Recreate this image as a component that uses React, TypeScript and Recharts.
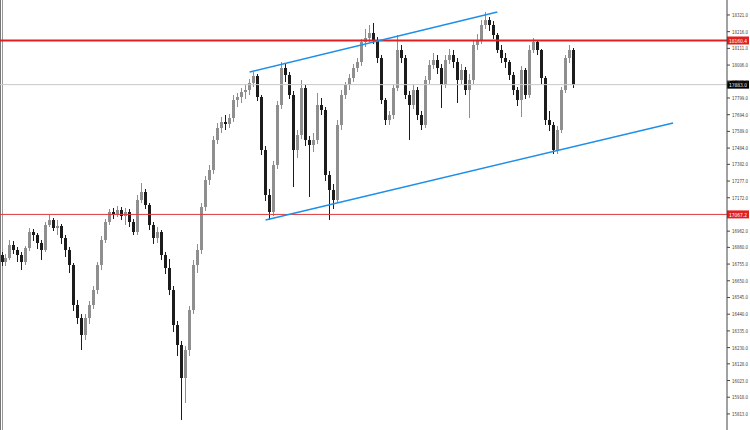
import { Bar, ComposedChart, ReferenceLine, XAxis, YAxis } from "recharts";

const OPEN = [
  16810, 16768, 16793, 16875, 16844, 16812, 16768, 16856, 16957, 16938, 16888, 16844, 17001, 17032, 16982, 16994,
  16919, 16844, 16749, 16498, 16416, 16309, 16416, 16498, 16592, 16749, 16906, 17020, 17082, 17070, 17095, 17057,
  17082, 17020, 16957, 17158, 17208, 17126, 17001, 16919, 16957, 16812, 16730, 16592, 16372, 16246, 16039, 16215,
  16466, 16749, 16844, 17114, 17284, 17346, 17535, 17610, 17648, 17636, 17673, 17786, 17805, 17837, 17849, 17893,
  17937, 17805, 17472, 17189, 17082, 17378, 17755, 17988, 17944, 17818, 17472, 17566, 17862, 17535, 17504, 17535,
  17755, 17724, 17315, 17221, 17158, 17629, 17818, 17881, 17925, 17988, 18025, 18151, 18176, 18208, 18164, 18050,
  17786, 17661, 17692, 17862, 18101, 18050, 17818, 17755, 17849, 17692, 17629, 17912, 18006, 18038, 17988, 17881,
  18038, 18069, 18025, 17912, 17975, 17849, 17912, 18132, 18164, 18258, 18289, 18258, 18195, 18101, 18050, 18025,
  17944, 17849, 17786, 17975, 17818, 18101, 18151, 18101, 17925, 17661, 17629, 17472, 17598, 17849, 18050, 18101,
];
const HIGH = [
  16830, 16820, 16905, 16900, 16860, 16830, 16870, 16980, 16975, 16950, 16905, 17020, 17063, 17045, 17030, 17010,
  16935, 16860, 16760, 16530, 16440, 16440, 16520, 16620, 16770, 16930, 17040, 17100, 17110, 17120, 17115, 17110,
  17100, 17040, 17190, 17265, 17230, 17140, 17020, 16990, 16970, 16830, 16790, 16620, 16400, 16270, 16240, 16490,
  16780, 16880, 17140, 17310, 17380, 17560, 17640, 17680, 17690, 17700, 17820, 17830, 17860, 17880, 17920, 17962,
  17950, 17820, 17500, 17230, 17400, 17780, 18025, 18010, 17960, 17840, 17600, 17912, 17880, 17560, 17580, 17830,
  17800, 17740, 17340, 17260, 17660, 17850, 17900, 17950, 18010, 18050, 18170, 18230, 18260, 18270, 18180, 18070,
  17800, 17720, 17890, 18195, 18130, 18070, 17840, 17880, 17870, 17720, 17940, 18040, 18080, 18070, 18010, 18070,
  18110, 18100, 18050, 18010, 17995, 17950, 18160, 18200, 18290, 18340, 18310, 18280, 18210, 18130, 18080, 18040,
  17960, 17870, 18000, 17990, 18130, 18176, 18165, 18110, 17940, 17720, 17650, 17620, 17870, 18070, 18132, 18115,
];
const LOW = [
  16740, 16745, 16780, 16820, 16770, 16720, 16750, 16840, 16900, 16850, 16780, 16830, 16985, 16960, 16940, 16880,
  16800, 16700, 16460, 16380, 16215, 16280, 16380, 16470, 16570, 16720, 16890, 17000, 17040, 17050, 17030, 17000,
  16990, 16940, 16940, 17140, 17100, 16970, 16880, 16890, 16780, 16690, 16560, 16330, 16180, 15775, 15880, 16180,
  16440, 16700, 16820, 17090, 17250, 17320, 17510, 17580, 17600, 17610, 17650, 17740, 17770, 17790, 17820, 17870,
  17780, 17440, 17150, 17032, 17060, 17350, 17730, 17900, 17790, 17240, 17420, 17540, 17500, 17177, 17460, 17510,
  17690, 17280, 17032, 17100, 17140, 17600, 17790, 17850, 17900, 17960, 18000, 18120, 18150, 18140, 18020, 17760,
  17630, 17630, 17670, 17840, 18020, 17790, 17535, 17730, 17660, 17600, 17610, 17890, 17980, 17950, 17736, 17860,
  18010, 17990, 17768, 17890, 17820, 17673, 17890, 18100, 18140, 18230, 18220, 18170, 18080, 18020, 17990, 17910,
  17820, 17750, 17680, 17790, 17800, 18080, 18070, 17890, 17630, 17590, 17447, 17450, 17580, 17830, 18020, 17860,
];
const CLOSE = [
  16768, 16793, 16875, 16844, 16812, 16768, 16856, 16957, 16938, 16888, 16844, 17001, 17032, 16982, 16994, 16919,
  16844, 16749, 16498, 16416, 16309, 16416, 16498, 16592, 16749, 16906, 17020, 17082, 17070, 17095, 17057, 17082,
  17020, 16957, 17158, 17208, 17126, 17001, 16919, 16957, 16812, 16730, 16592, 16372, 16246, 16039, 16215, 16466,
  16749, 16844, 17114, 17284, 17346, 17535, 17610, 17648, 17636, 17673, 17786, 17805, 17837, 17849, 17893, 17937,
  17805, 17472, 17189, 17082, 17378, 17755, 17988, 17944, 17818, 17472, 17566, 17862, 17535, 17504, 17535, 17755,
  17724, 17315, 17221, 17158, 17629, 17818, 17881, 17925, 17988, 18025, 18151, 18176, 18208, 18164, 18050, 17786,
  17661, 17692, 17862, 18101, 18050, 17818, 17755, 17849, 17692, 17629, 17912, 18006, 18038, 17988, 17881, 18038,
  18069, 18025, 17912, 17975, 17849, 17912, 18132, 18164, 18258, 18289, 18258, 18195, 18101, 18050, 18025, 17944,
  17849, 17786, 17975, 17818, 18101, 18151, 18101, 17925, 17661, 17629, 17472, 17598, 17849, 18050, 18101, 17883,
];

// empty slots on the right (chart shift area)
const TOTAL_SLOTS = 182;

const PRICE_TICKS = [
  18321, 18216, 18111, 18006, 17901, 17799, 17694, 17589, 17484, 17382, 17277, 17172, 16962, 16860, 16755,
  16650, 16545, 16440, 16335, 16230, 16128, 16023, 15918, 15813,
];

const RESISTANCE = 18160.4;
const SUPPORT = 17067.2;
const LAST_PRICE = 17883.0;

// channel lines: [barIndex, price]
const CHANNEL_TOP = [
  [62, 17962],
  [124, 18340],
];
const CHANNEL_BOTTOM = [
  [66, 17032],
  [168, 17642],
];

const FONT = "'DejaVu Sans', sans-serif";

const rows = Array.from({ length: TOTAL_SLOTS }, (_, i) =>
  i < CLOSE.length ? { i, o: OPEN[i], h: HIGH[i], l: LOW[i], c: CLOSE[i] } : { i },
);

const Candle = (props: any) => {
  const { x, y, width, height, payload } = props;
  if (!payload || payload.c == null) return null;
  const { o, h, l, c } = payload;
  const top = Math.min(y, y + height);
  const bottom = Math.max(y, y + height);
  const span = h - l || 1;
  const py = (p: number) => top + ((h - p) / span) * (bottom - top);
  const cx = Math.floor(x + width / 2);
  const up = c >= o;
  const col = up ? "#8f8f8f" : "#1c1c1c";
  const bt = Math.min(py(o), py(c));
  const bh = Math.max(1, Math.abs(py(o) - py(c)));
  return (
    <g shapeRendering="crispEdges">
      <rect x={cx} y={top} width={1} height={bottom - top} fill={col} />
      <rect x={cx - 1} y={bt} width={3} height={bh} fill={col} />
    </g>
  );
};

const PriceTick = (props: any) => {
  const { x, y, payload } = props;
  return (
    <text
      x={x}
      y={y + 2}
      fontSize={5.5}
      fill="#3a3a3a"
      fontFamily={FONT}
      textLength={16}
      lengthAdjust="spacingAndGlyphs"
    >
      {Number(payload.value).toFixed(1)}
    </text>
  );
};

const priceTag = (text: string, bg: string) => (p: any) => {
  const vb = p.viewBox || {};
  const x0 = vb.x + vb.width;
  return (
    <g>
      <rect x={x0} y={vb.y - 4} width={22} height={8} fill={bg} />
      <text
        x={x0 + 2}
        y={vb.y + 2.2}
        fontSize={5.5}
        fill="#fff"
        fontFamily={FONT}
        textLength={18}
        lengthAdjust="spacingAndGlyphs"
      >
        {text}
      </text>
    </g>
  );
};

export default function App() {
  return (
    <div style={{ position: "fixed", top: 0, left: 0, width: 750, height: 430, background: "#fff" }}>
      <div style={{ position: "absolute", left: 0, top: 0, width: 1, height: 430, background: "#777" }} />
      <div style={{ position: "absolute", left: 2, top: 0, width: 1, height: 430, background: "#999" }} />
      <ComposedChart width={750} height={430} data={rows} margin={{ top: 0, right: 0, left: 0, bottom: 0 }} barCategoryGap={0}>
        <XAxis dataKey="i" type="category" hide />
        <YAxis
          orientation="right"
          domain={[15712, 18415]}
          ticks={PRICE_TICKS}
          width={23}
          tickSize={3}
          tickMargin={2}
          axisLine={{ stroke: "#444" }}
          tickLine={{ stroke: "#444" }}
          tick={<PriceTick />}
          interval={0}
          allowDataOverflow
        />
        <ReferenceLine y={LAST_PRICE} stroke="#c8c8c8" label={priceTag(LAST_PRICE.toFixed(1), "#000")} />
        <ReferenceLine y={SUPPORT} stroke="#e03a3a" strokeWidth={1} label={priceTag(SUPPORT.toFixed(1), "#e02020")} />
        <ReferenceLine y={RESISTANCE} stroke="#e02020" strokeWidth={2} label={priceTag(RESISTANCE.toFixed(1), "#e02020")} />
        <Bar
          dataKey={(d: any) => (d.c == null ? undefined : [d.l, d.h])}
          shape={<Candle />}
          isAnimationActive={false}
        />
        <ReferenceLine
          segment={CHANNEL_TOP.map(([x, y]) => ({ x, y }))}
          stroke="#1e8fe8"
          strokeWidth={1.5}
          ifOverflow="visible"
        />
        <ReferenceLine
          segment={CHANNEL_BOTTOM.map(([x, y]) => ({ x, y }))}
          stroke="#1e8fe8"
          strokeWidth={1.5}
          ifOverflow="visible"
        />
      </ComposedChart>
    </div>
  );
}
